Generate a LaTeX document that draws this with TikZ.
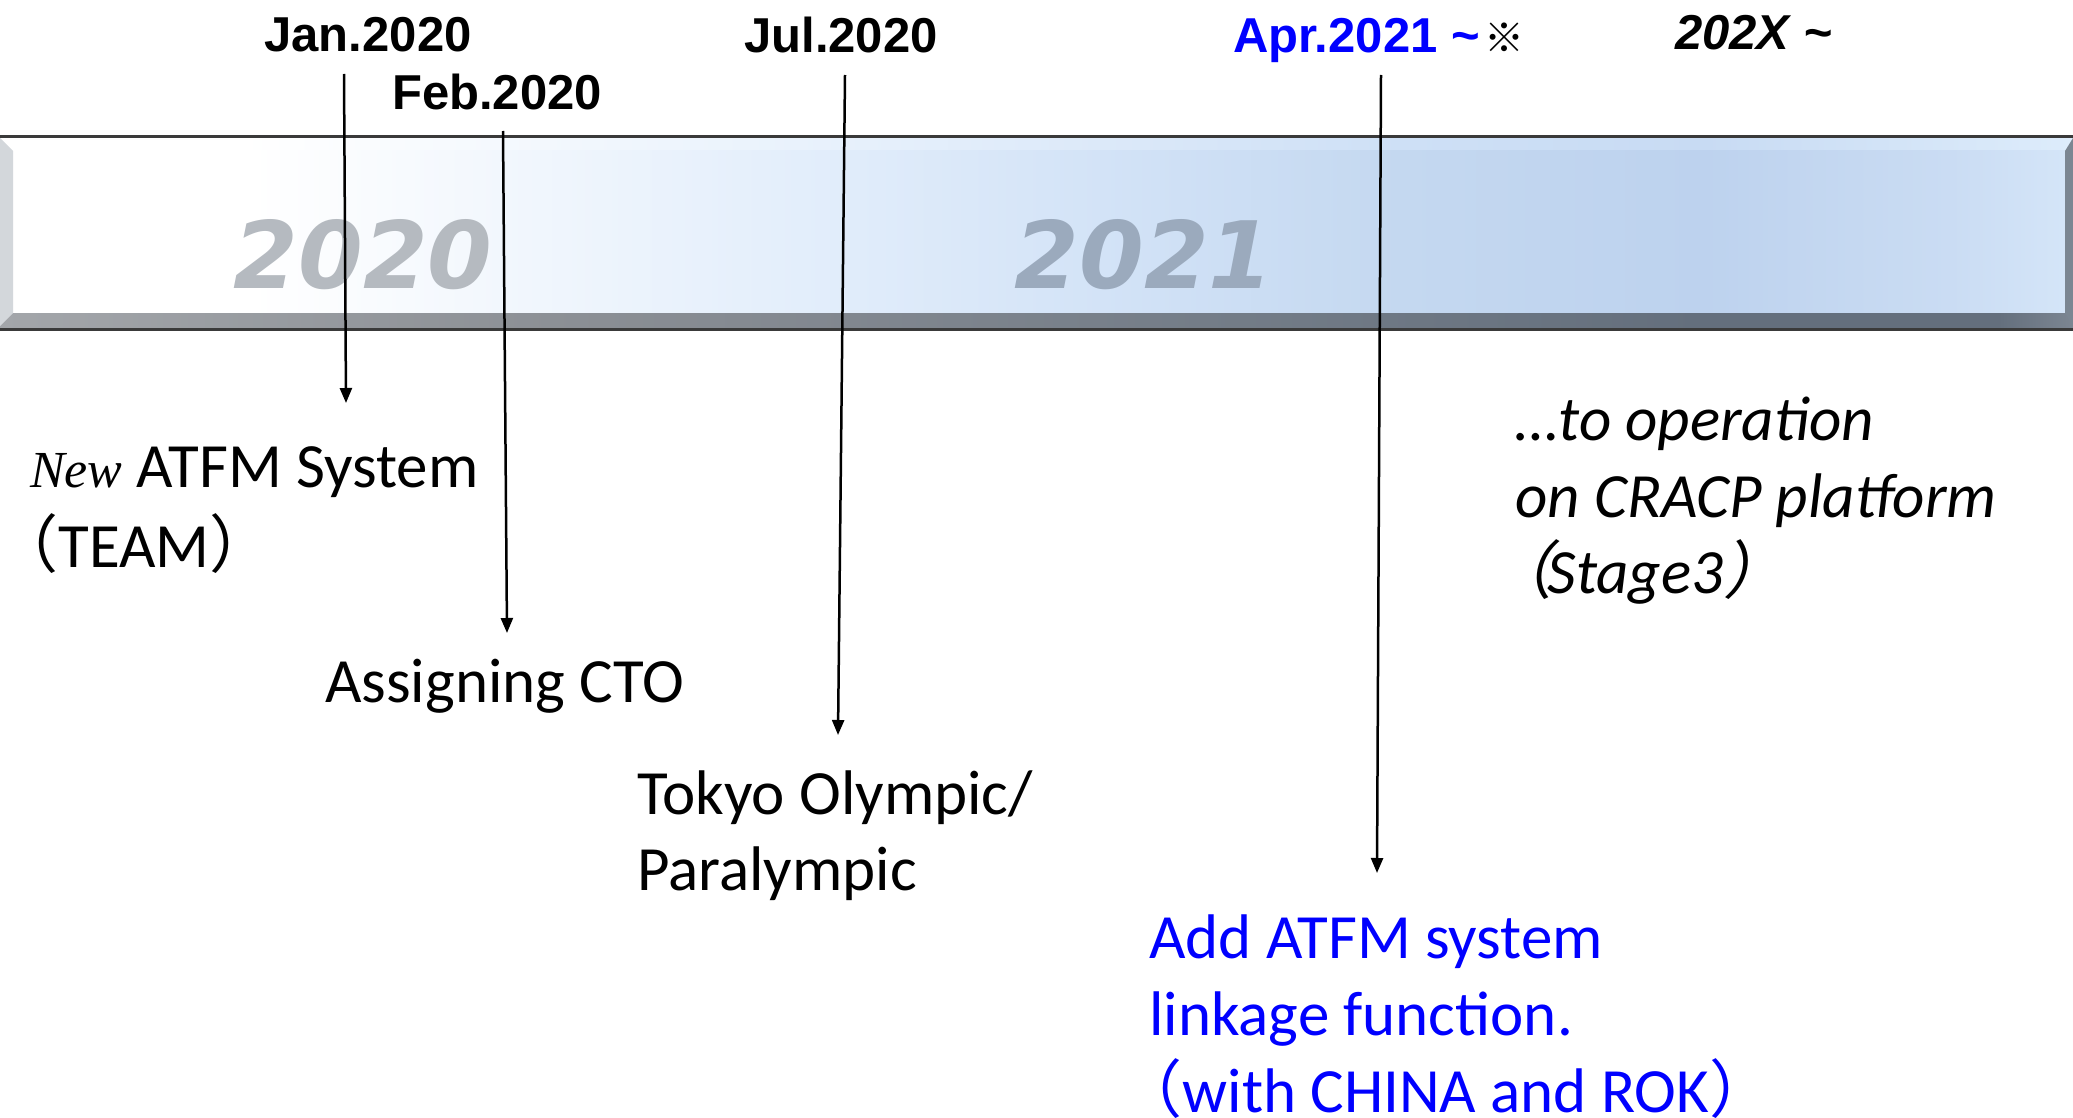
\documentclass[tikz,border=0pt]{standalone}
\usepackage{fontspec}
\usetikzlibrary{arrows.meta}
\setmainfont{Carlito}
\newfontfamily\arial{Liberation Sans}
\newfontfamily\timesf{Liberation Serif}
\newfontfamily\djv{DejaVu Sans}
\newfontfamily\cjk{Noto Sans CJK JP}
\newfontfamily\cjkit{Noto Sans CJK JP}[FakeSlant=0.2]
\definecolor{tblue}{HTML}{0000FF}
\definecolor{b1}{HTML}{F2F7FD}
\definecolor{b2}{HTML}{E3EEFB}
\definecolor{b3}{HTML}{D3E3F7}
\definecolor{b4}{HTML}{C4D8F0}
\definecolor{b5}{HTML}{BDD2EE}
\definecolor{b6}{HTML}{CADCF3}
\definecolor{b7}{HTML}{D4E5F8}
\definecolor{t2}{HTML}{E9F2FC}
\definecolor{t3}{HTML}{DCE9F9}
\definecolor{t4}{HTML}{CEE0F6}
\definecolor{t5}{HTML}{C8DBF3}
\definecolor{t7}{HTML}{DDECFB}
\definecolor{s0}{HTML}{A3A6AA}
\definecolor{s1}{HTML}{8A8E94}
\definecolor{s2}{HTML}{747D88}
\definecolor{s3}{HTML}{646F7D}
\definecolor{s5}{HTML}{7C8692}
\definecolor{edge}{HTML}{3A3A3A}
\definecolor{lbev}{HTML}{D3D7DB}
\definecolor{rbev}{HTML}{7B8692}
\definecolor{yr0}{HTML}{B5BAC0}
\definecolor{yr1}{HTML}{9BAABD}
\pgfdeclarehorizontalshading{bodyshade}{100bp}{color(0bp)=(white); color(25bp)=(white); color(30.8bp)=(white); color(36.9bp)=(b1); color(44.2bp)=(b2); color(51.5bp)=(b3); color(58.8bp)=(b4); color(66.1bp)=(b5); color(72.2bp)=(b6); color(75bp)=(b7); color(100bp)=(b7)}
\pgfdeclarehorizontalshading{topshade}{100bp}{color(0bp)=(white); color(25bp)=(white); color(30.8bp)=(white); color(44.2bp)=(t2); color(51.5bp)=(t3); color(58.8bp)=(t4); color(66.1bp)=(t5); color(75bp)=(t7); color(100bp)=(t7)}
\pgfdeclarehorizontalshading{botshade}{100bp}{color(0bp)=(s0); color(25bp)=(s0); color(39.5bp)=(s1); color(54bp)=(s2); color(66bp)=(s3); color(73.2bp)=(s3); color(75bp)=(s5); color(100bp)=(s5)}
\tikzset{
  lbl/.style={inner sep=0pt, anchor=base, font=\arial\bfseries\fontsize{49}{49}\selectfont},
  txt/.style={inner sep=0pt, anchor=base west, font=\fontsize{63}{77}\selectfont},
  txtit/.style={inner sep=0pt, anchor=base west, font=\itshape\fontsize{63}{77}\selectfont},
  yearno/.style={inner sep=0pt, anchor=base, font=\djv\bfseries\itshape\fontsize{93}{93}\selectfont},
  arr/.style={line width=2.5pt, -{Triangle[length=15pt,width=12pt]}},
}
\begin{document}
\begin{tikzpicture}[x=1pt,y=-1pt]
\useasboundingbox (0,0) rectangle (2073,1118);
\fill[white] (0,0) rectangle (2073,1118);
% timeline bar
\shade[shading=topshade] (0,138) rectangle (2073,151);
\shade[shading=bodyshade] (13,151) rectangle (2065,313);
\shade[shading=botshade] (0,313) rectangle (2073,328);
\fill[lbev] (0,138) -- (13,151) -- (13,313) -- (0,326) -- cycle;
\fill[rbev] (2073,138) -- (2065,151) -- (2065,313) -- (2073,326) -- cycle;
\fill[edge] (0,135) rectangle (2073,138);
\fill[edge] (0,328) rectangle (2073,331);
% year numbers
\node[yearno, text=yr0] (y2020) at (363,288) {2020};
\node[yearno, text=yr1] (y2021) at (1144,288) {2021};
% top labels
\node[lbl] (jan) at (368,52) {Jan.2020};
\node[lbl] (feb) at (497,110) {Feb.2020};
\node[lbl] (jul) at (841,53) {Jul.2020};
\node[lbl, anchor=base west] (apr) at (1233,53) {{\color{tblue}Apr.2021 \textasciitilde}\kern5pt{\cjk\mdseries\fontsize{40}{40}\selectfont ※}};
\node[lbl, anchor=base west] (future) at (1675,50) {\itshape 202X \textasciitilde};
% arrow end points
\coordinate (jan-s) at (344,74);
\coordinate (jan-e) at (346,403);
\coordinate (feb-s) at (503,131);
\coordinate (feb-e) at (507,633);
\coordinate (jul-s) at (845,75);
\coordinate (jul-e) at (838,735);
\coordinate (apr-s) at (1381,75);
\coordinate (apr-e) at (1377,873);
\draw[arr] (jan-s) -- (jan-e);
\draw[arr] (feb-s) -- (feb-e);
\draw[arr] (jul-s) -- (jul-e);
\draw[arr] (apr-s) -- (apr-e);
% event texts
\node[txt] (team1) at (30,487) {{\timesf\itshape\fontsize{52}{52}\selectfont New} ATFM System};
\node[txt] (team2) at (30,567) {{\cjk\kern-0.55em（}TEAM{\cjk ）}};
\node[txt] (cto) at (325,702) {Assigning CTO};
\node[txt] (tokyo1) at (637,814) {Tokyo Olympic/};
\node[txt] (tokyo2) at (637,890) {Paralympic};
\node[txt, text=tblue] (add1) at (1149,958) {Add ATFM system};
\node[txt, text=tblue] (add2) at (1149,1035) {linkage function.};
\node[txt, text=tblue] (add3) at (1154,1112) {{\cjk\kern-0.55em（}with CHINA and ROK{\cjk ）}};
\node[txtit] (op1) at (1515,440) {…to operation};
\node[txtit] (op2) at (1515,517) {on CRACP platform};
\node[txtit] (op3) at (1524,593) {{\cjkit\kern-0.55em（}\kern-5pt Stage3{\cjkit ）}};
\end{tikzpicture}
\end{document}
